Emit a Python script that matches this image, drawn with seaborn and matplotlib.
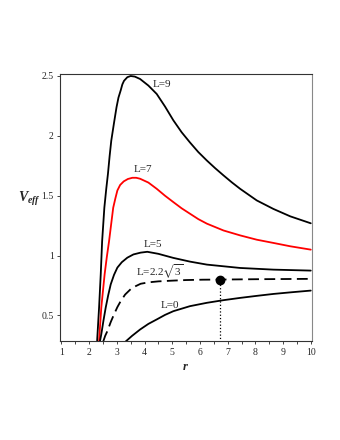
import numpy as np
import pandas as pd
import matplotlib
matplotlib.use("Agg")
import matplotlib.pyplot as plt
import seaborn as sns

# values (r, V_eff)
r_L9 = [2.29, 2.36, 2.42, 2.47, 2.55, 2.62, 2.68, 2.74, 2.80, 2.90, 2.99, 3.06, 3.14, 3.20, 3.26,
        3.38, 3.50, 3.65, 3.84, 4.14, 4.44, 4.74, 5.04, 5.34, 5.64, 5.94, 6.25, 6.55, 6.85, 7.15,
        7.45, 8.05, 8.65, 9.26, 10.0]
V_L9 = [0.29, 0.567, 0.844, 1.12, 1.40, 1.56, 1.683, 1.83, 1.96, 2.11, 2.24, 2.32, 2.38, 2.43, 2.46,
        2.49, 2.50, 2.495, 2.475, 2.42, 2.35, 2.245, 2.13, 2.03, 1.945, 1.865, 1.794, 1.73, 1.67,
        1.612, 1.558, 1.461, 1.39, 1.328, 1.27]

r_L7 = [2.36, 2.44, 2.56, 2.64, 2.72, 2.80, 2.87, 2.95, 3.02, 3.12, 3.25, 3.40, 3.56, 3.70, 3.84,
        4.14, 4.44, 4.74, 5.04, 5.34, 5.64, 5.94, 6.25, 6.85, 7.45, 8.05, 8.65, 9.26, 10.0]
V_L7 = [0.29, 0.567, 0.844, 0.99, 1.12, 1.27, 1.40, 1.48, 1.544, 1.59, 1.62, 1.64, 1.65, 1.65, 1.642,
        1.61, 1.558, 1.50, 1.447, 1.395, 1.35, 1.305, 1.267, 1.21, 1.169, 1.133, 1.106, 1.078, 1.05]

r_L5 = [2.39, 2.44, 2.52, 2.60, 2.69, 2.78, 2.90, 3.02, 3.18, 3.38, 3.60, 3.86, 4.10, 4.50, 5.04,
        5.64, 6.25, 7.45, 8.65, 10.0]
V_L5 = [0.283, 0.344, 0.46, 0.567, 0.67, 0.76, 0.84, 0.90, 0.945, 0.983, 1.01, 1.025, 1.032, 1.015,
        0.981, 0.95, 0.925, 0.897, 0.883, 0.875]

r_Lc = [2.51, 2.58, 2.66, 2.78, 2.90, 3.02, 3.14, 3.30, 3.50, 3.68, 3.86, 4.15, 4.50, 5.00, 5.50,
        6.10, 6.73, 8.00, 10.0]
V_Lc = [0.283, 0.33, 0.37, 0.445, 0.51, 0.57, 0.62, 0.675, 0.72, 0.745, 0.765, 0.777, 0.785, 0.791,
        0.796, 0.799, 0.80, 0.803, 0.806]

r_L0 = [3.32, 3.55, 3.84, 4.14, 4.44, 4.74, 5.04, 5.64, 6.25, 6.85, 7.45, 8.05, 8.65, 9.30, 10.0]
V_L0 = [0.283, 0.33, 0.383, 0.43, 0.467, 0.505, 0.536, 0.578, 0.606, 0.628, 0.647, 0.664, 0.68,
        0.694, 0.708]

isco_r = 6.73
isco_V = 0.80

labels = ["L=9", "L=7", "L=5", r"L=2.2$\sqrt{3}$", "L=0"]
label_pos = [(4.62, 2.43), (3.96, 1.72), (4.30, 1.09), (4.56, 0.865), (4.92, 0.585)]

sns.set_style("ticks")
plt.rcParams["font.family"] = ["Liberation Serif", "DejaVu Serif"]
plt.rcParams["mathtext.fontset"] = "custom"
plt.rcParams["mathtext.rm"] = "Liberation Serif"
plt.rcParams["mathtext.it"] = "Liberation Serif:italic:bold"
plt.rcParams["mathtext.fallback"] = "stix"

fig = plt.figure(figsize=(3.4, 4.4), dpi=100)
ax = fig.add_axes([0.1765, 0.2239, 0.74, 0.608])

curves = [(r_L9, V_L9, "black", "-"), (r_L7, V_L7, "red", "-"), (r_L5, V_L5, "black", "-"),
          (r_Lc, V_Lc, "black", (0, (6, 3))), (r_L0, V_L0, "black", "-")]
for rr, vv, col, ls in curves:
    df = pd.DataFrame({"r": rr, "V": vv})
    sns.lineplot(data=df, x="r", y="V", sort=False, estimator=None, color=col,
                 linewidth=1.3, linestyle=ls, ax=ax)

ax.plot([isco_r, isco_r], [0.0, isco_V], color="black", linestyle=":", linewidth=0.9)
ax.plot([isco_r], [isco_V], "o", color="black", markersize=6)

for txt, (x, y) in zip(labels, label_pos):
    ax.text(x, y, txt, fontsize=8, ha="center", va="center")

ax.set_xlim(0.95, 10.03)
ax.set_ylim(0.283, 2.517)
ax.set_xticks(range(1, 11))
ax.set_xticks(np.arange(1.5, 10, 1.0), minor=True)
ax.set_yticks([0.5, 1, 1.5, 2, 2.5])
ax.set_yticklabels(["0.5", "1", "1.5", "2", "2.5"])
ax.tick_params(axis="both", labelsize=7, length=2.5, width=0.6, pad=2)
ax.tick_params(axis="x", which="minor", length=1.8, width=0.6)

ax.set_xlabel(r"$r$", fontsize=9, labelpad=3)
ax.set_ylabel(r"$V_{eff}$", fontsize=10, rotation=0, labelpad=8)
ax.yaxis.set_label_coords(-0.12, 0.50)

for s in ["left", "bottom", "top"]:
    ax.spines[s].set_color("#333333")
    ax.spines[s].set_linewidth(0.8)
ax.spines["right"].set_visible(True)
ax.spines["top"].set_visible(True)
ax.spines["right"].set_color("#888888")
ax.spines["right"].set_linewidth(0.8)

fig.savefig("out.png", dpi=100)
